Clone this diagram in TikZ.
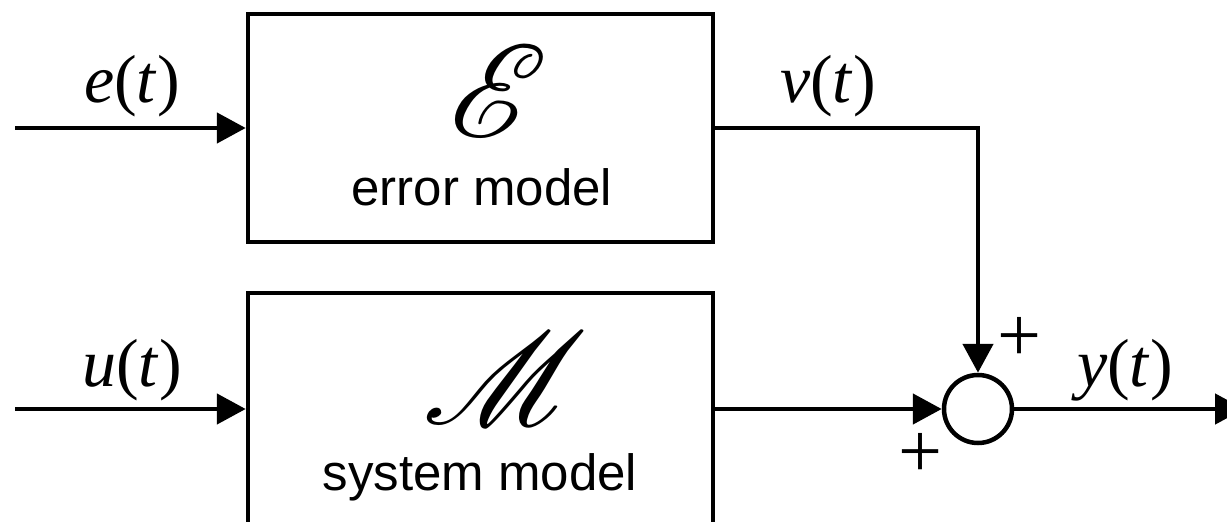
\documentclass[tikz,border=0pt]{standalone}
\usepackage{fontspec}
\setmainfont{Liberation Serif}
\newfontfamily\arialf{Liberation Sans}
\usetikzlibrary{arrows.meta}
\DeclareFontFamily{U}{myscr}{}
\DeclareFontShape{U}{myscr}{m}{n}{<-> rsfs10}{}
\tikzset{
  blk/.style={draw, line width=4.5pt, minimum width=465pt, inner sep=0pt},
  sumnode/.style={draw, circle, line width=4.5pt, minimum size=68pt, inner sep=0pt},
  arr/.style={line width=4.8pt, -{Triangle[length=29pt,width=30pt]}},
  lbl/.style={anchor=base, inner sep=0pt, font=\fontsize{68}{68}\selectfont},
  sans/.style={anchor=base, inner sep=0pt, font=\arialf\fontsize{51}{51}\selectfont},
  scr/.style={anchor=base, inner sep=0pt, font=\fontsize{132}{132}\usefont{U}{myscr}{m}{n}},
  sgn/.style={anchor=center, inner sep=0pt, font=\fontsize{78}{78}\selectfont},
}
\begin{document}
\begin{tikzpicture}[x=1pt,y=-1pt]
\path[use as bounding box, clip] (0,0) rectangle (1227,522);
\node[blk, minimum height=228pt] (err) at (480.5,128) {};
\node[blk, minimum height=232pt] (sys) at (480.5,409) {};
\node[sumnode] (sum) at (978,409) {};
\coordinate (ein) at (15,128);
\coordinate (uin) at (15,409);
\coordinate (vc) at (978,128);
\coordinate (yout) at (1244,409);
\draw[arr] (ein) -- (err.west);
\draw[arr] (uin) -- (sys.west);
\draw[arr] (err.east) -- (vc) -- (sum.north);
\draw[arr] (sys.east) -- (sum.west);
\draw[arr] (sum.east) -- (yout);
\node[lbl] (el) at (132,102) {\textit{e}(\textit{t})};
\node[lbl] (vl) at (828,102) {\textit{v}(\textit{t})};
\node[lbl] (ul) at (132,386) {\textit{u}(\textit{t})};
\node[lbl] (yl) at (1125,386) {\textit{y}(\textit{t})};
\node[sans] (et) at (482,205) {error model};
\node[sans] (st) at (480,490) {system model};
\node[scr] (E) at (487,137) {E};
\node[scr] (M) at (495,424) {M};
\node[sgn] (p1) at (1019,339) {+};
\node[sgn] (p2) at (920,455) {+};
\end{tikzpicture}
\end{document}
